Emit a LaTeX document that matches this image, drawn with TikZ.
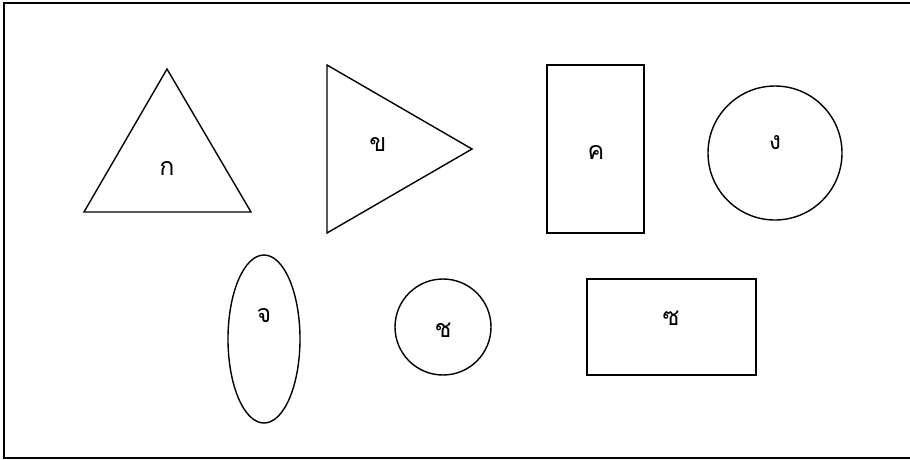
\documentclass[tikz,border=0pt]{standalone}
\usepackage{fontspec}
\newfontfamily\thaifont[Script=Thai]{Loma}

\begin{document}
\begin{tikzpicture}[x=1pt,y=-1pt,line width=1.4pt,
    shapelabel/.style={font=\thaifont\fontsize{25}{30}\selectfont}]
  \useasboundingbox (0,0) rectangle (910,459);
  \draw[line width=1.6pt] (4,3) rectangle (913,458);
  % top row
  \draw (167,69) -- (251,212) -- (84,212) -- cycle;
  \node[shapelabel] (ko) at (167,168) {ก};
  \draw (327,65) -- (472,149) -- (327,233) -- cycle;
  \node[shapelabel] (kho) at (378,144) {ข};
  \draw (547,65) rectangle (644,233);
  \node[shapelabel] (khokhwai) at (596,152) {ค};
  \draw (775,153) circle [radius=67];
  \node[shapelabel] (ngo) at (775,143) {ง};
  % bottom row
  \draw (264,339) ellipse [x radius=36, y radius=84];
  \node[shapelabel] (cho) at (264,316) {จ};
  \draw (443,327) circle [radius=48];
  \node[shapelabel] (chochang) at (443,330) {ช};
  \draw (587,279) rectangle (756,375);
  \node[shapelabel] (so) at (671,318) {ซ};
\end{tikzpicture}
\end{document}
